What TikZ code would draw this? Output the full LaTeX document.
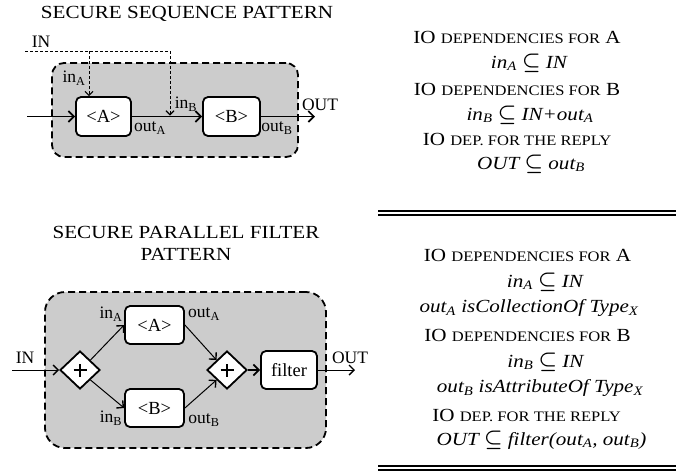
\documentclass[tikz,border=0pt]{standalone}
\usepackage{fontspec}
\setmainfont{Liberation Serif}
\newfontfamily\widefont[FakeStretch=1.14]{Liberation Serif}
\usetikzlibrary{arrows.meta,shapes.geometric}
\newcommand\fsc[1]{{\fontsize{14.5}{16}\selectfont #1}}
\newcommand\sbs[1]{\textsubscript{#1}}
\newcommand\sbe{{\fontsize{21}{21}\selectfont$\boldsymbol{\subseteq}$}}
\usepackage{amsmath}
\begin{document}
\begin{tikzpicture}[x=1pt,y=-1pt,
  bgbox/.style={draw, dash pattern=on 7pt off 4pt, line width=1.8pt, fill=gray!40, rounded corners=#1, inner sep=0pt},
  task/.style={draw, line width=1.8pt, fill=white, rounded corners=5pt, inner sep=0pt, font=\fontsize{18.5}{20}\selectfont},
  gate/.style={draw, diamond, line width=1.8pt, fill=white, minimum width=40pt, minimum height=38pt, inner sep=0pt},
  plus/.style={line width=2.8pt},
  lbl/.style={inner sep=0pt, font=\fontsize{17.5}{18}\selectfont},
  ttl/.style={inner sep=0pt, font=\widefont\fontsize{18.5}{20}\selectfont},
  txt/.style={inner sep=0pt, font=\widefont\fontsize{18.5}{20}\selectfont},
  flow/.style={-{Straight Barb[length=5.5pt,width=11pt,line width=1.7pt]}, line width=1.6pt},
  thin/.style={-{Straight Barb[length=5pt,width=10pt,line width=1.4pt]}, line width=1pt},
  dep/.style={dash pattern=on 3pt off 2pt, line width=0.9pt},
  deparrow/.style={dep, -{Straight Barb[length=4pt,width=8pt,line width=1.1pt]}},
  rule/.style={line width=2.2pt}
]
\useasboundingbox (0,0) rectangle (689,472);

% ---------- top: sequence pattern ----------
\node[ttl] (t1) at (187,14) {SECURE SEQUENCE PATTERN};
\node[bgbox=12pt, minimum width=246pt, minimum height=94pt] (bg1) at (175,110) {};
\node[task, minimum width=55pt, minimum height=39pt] (A) at (103.5,116.5) {<A>};
\node[task, minimum width=57pt, minimum height=39pt] (B) at (231.5,116.5) {<B>};
\coordinate (ain) at (27,116.5);
\coordinate (bout) at (315,116.5);
\coordinate (inl) at (25,51);
\coordinate (inj1) at (89,51);
\coordinate (inj2) at (170,51);
\coordinate (inb) at (170,115.5);
\draw[flow] (ain) -- (A.west);
\draw[flow] (A.east) -- (B.west);
\draw[flow] (B.east) -- (bout);
\draw[dep] (inl) -- (inj2);
\draw[deparrow] (inj2) -- (inb);
\draw[deparrow] (inj1) -- (inj1 |- A.north);
\node[lbl] (lIN1) at (41,42) {IN};
\node[lbl] (lina1) at (74,78) {in\sbs{A}};
\node[lbl] (linb1) at (186,104) {in\sbs{B}};
\node[lbl] (louta1) at (150,128) {out\sbs{A}};
\node[lbl] (loutb1) at (277,128) {out\sbs{B}};
\node[lbl] (lOUT1) at (320,105) {OUT};

\node[txt] (r1) at (517,37) {IO \fsc{DEPENDENCIES FOR} A};
\node[txt] (r2) at (529,63) {\itshape in\sbs{A} \sbe{} IN};
\node[txt] (r3) at (517,89) {IO \fsc{DEPENDENCIES FOR} B};
\node[txt] (r4) at (530,115) {\itshape in\sbs{B} \sbe{} IN+out\sbs{A}};
\node[txt] (r5) at (517,139) {IO \fsc{DEP. FOR THE REPLY}};
\node[txt] (r6) at (531,164) {\itshape OUT \sbe{} out\sbs{B}};

% ---------- bottom: parallel filter pattern ----------
\node[ttl] (t2) at (186,232) {SECURE PARALLEL FILTER};
\node[ttl] (t3) at (186,254) {PATTERN};
\node[bgbox=20pt, minimum width=281pt, minimum height=156pt] (bg2) at (185.5,370) {};
\node[gate] (d1) at (80,370) {};
\node[gate] (d2) at (227,370) {};
\draw[plus] ([xshift=-6.5pt]d1.center) -- ([xshift=6.5pt]d1.center);
\draw[plus] ([yshift=-6.5pt]d1.center) -- ([yshift=6.5pt]d1.center);
\draw[plus] ([xshift=-6.5pt]d2.center) -- ([xshift=6.5pt]d2.center);
\draw[plus] ([yshift=-6.5pt]d2.center) -- ([yshift=6.5pt]d2.center);
\node[task, minimum width=59pt, minimum height=38pt] (A2) at (154.5,325) {<A>};
\node[task, minimum width=59pt, minimum height=38pt] (B2) at (154.5,408) {<B>};
\node[task, minimum width=56pt, minimum height=38pt] (F) at (289,370) {filter};
\coordinate (pin) at (12,370);
\coordinate (pout) at (355,370);
\draw[thin] (pin) -- (d1.west);
\draw[thin] (d1.north east) -- (A2.west);
\draw[thin] (d1.south east) -- (B2.west);
\draw[thin] (A2.east) -- (d2.north west);
\draw[thin] (B2.east) -- (d2.south west);
\draw[flow] (d2.east) -- (F.west);
\draw[thin] (F.east) -- (pout);
\node[lbl] (lIN2) at (25,358) {IN};
\node[lbl] (lOUT2) at (350,358) {OUT};
\node[lbl] (lina2) at (111,314) {in\sbs{A}};
\node[lbl] (linb2) at (111,418) {in\sbs{B}};
\node[lbl] (louta2) at (204,314) {out\sbs{A}};
\node[lbl] (loutb2) at (204,420) {out\sbs{B}};

\coordinate (ra1) at (378,211); \coordinate (rb1) at (676,211);
\coordinate (ra2) at (378,215); \coordinate (rb2) at (676,215);
\coordinate (ra3) at (378,466); \coordinate (rb3) at (676,466);
\coordinate (ra4) at (378,470); \coordinate (rb4) at (676,470);
\draw[rule] (ra1) -- (rb1);
\draw[rule] (ra2) -- (rb2);
\draw[rule] (ra3) -- (rb3);
\draw[rule] (ra4) -- (rb4);

\node[txt] (s1) at (527.5,255) {IO \fsc{DEPENDENCIES FOR} A};
\node[txt] (s2) at (545,282) {\itshape in\sbs{A} \sbe{} IN};
\node[txt] (s3) at (529,308) {\itshape out\sbs{A} isCollectionOf Type\sbs{X}};
\node[txt] (s4) at (527.5,335) {IO \fsc{DEPENDENCIES FOR} B};
\node[txt] (s5) at (545.5,362) {\itshape in\sbs{B} \sbe{} IN};
\node[txt] (s6) at (540,388) {\itshape out\sbs{B} isAttributeOf Type\sbs{X}};
\node[txt] (s7) at (526.5,415) {IO \fsc{DEP. FOR THE REPLY}};
\node[txt] (s8) at (541.5,440) {\itshape OUT \sbe{} filter(out\sbs{A}, out\sbs{B})};
\end{tikzpicture}
\end{document}
